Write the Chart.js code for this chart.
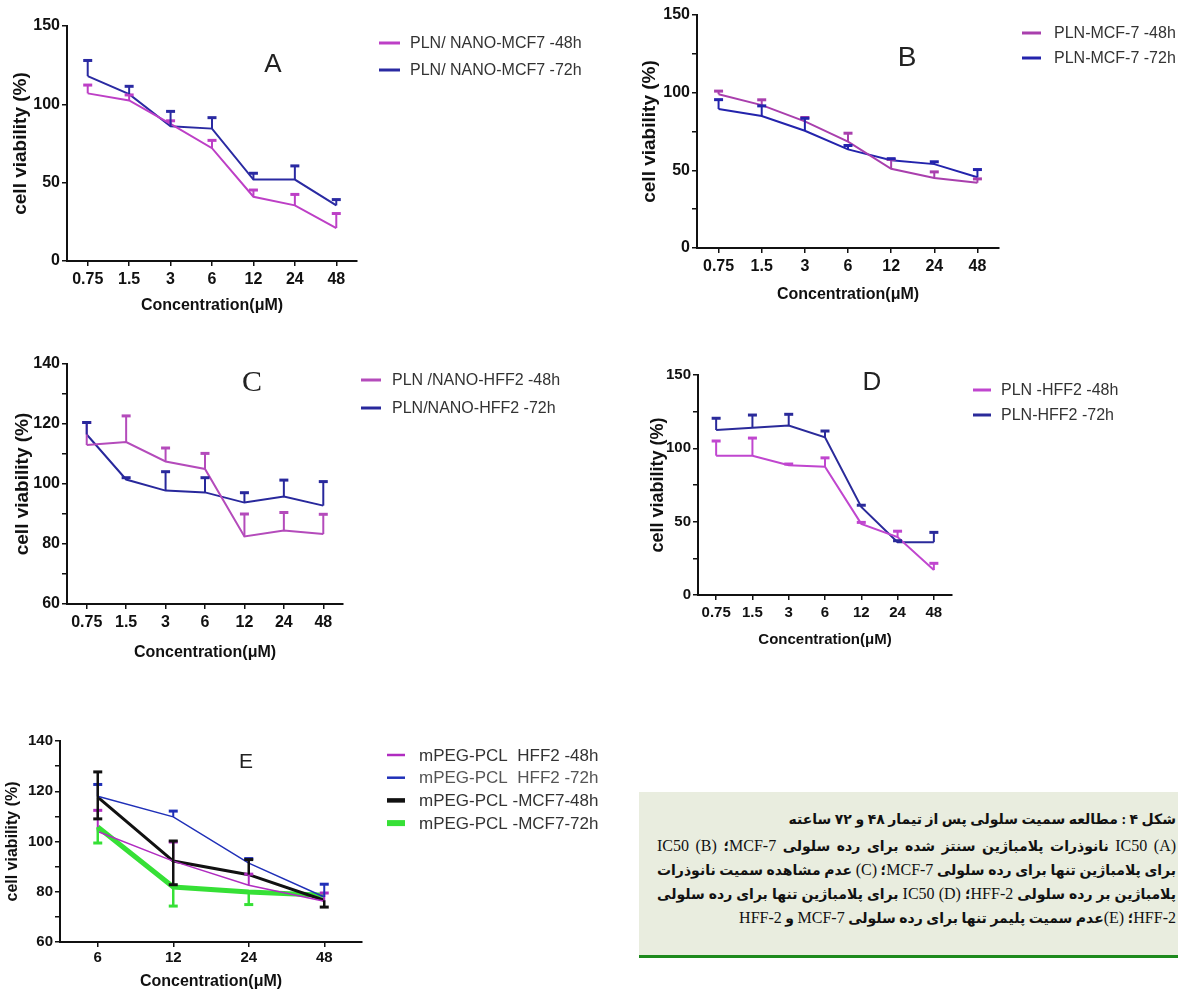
<!DOCTYPE html>
<html>
<head>
<meta charset="utf-8">
<script src="https://cdn.jsdelivr.net/npm/chart.js@4.4.0/dist/chart.umd.min.js"></script>
<style>
  body { margin: 0; background: #fff; width: 1178px; height: 990px; position: relative; overflow: hidden; }
  canvas { position: absolute; }
  .cap {
    position: absolute; left: 639px; top: 792px; width: 519px; height: 147px;
    padding: 16px 2px 0 18px; background: #e9eddf; border-bottom: 3px solid #1d8a1d;
    direction: rtl; font-family: 'Liberation Serif', 'DejaVu Sans', serif;
    font-size: 14px; line-height: 23px; color: #111; font-weight: bold;
  }
  .cap .t { margin-bottom: 3px; }
  .cap .j { text-align: justify; text-align-last: justify; }
  .cap bdi { font-size: 16px; font-weight: normal; }
</style>
</head>
<body>
<canvas id="chartA"></canvas>
<canvas id="chartB"></canvas>
<canvas id="chartC"></canvas>
<canvas id="chartD"></canvas>
<canvas id="chartE"></canvas>

<div class="cap">
  <div class="t">شکل ۴ : مطالعه سمیت سلولی پس از تیمار ۴۸ و ۷۲ ساعته</div>
  <div class="j"><bdi>(A)</bdi> <bdi>IC50</bdi> نانوذرات پلامباژین سنتز شده برای رده سلولی <bdi>MCF-7</bdi>؛ <bdi>(B)</bdi> <bdi>IC50</bdi></div>
  <div class="j">برای پلامباژین تنها برای رده سلولی <bdi>MCF-7</bdi>؛ <bdi>(C)</bdi> عدم مشاهده سمیت نانوذرات</div>
  <div class="j">پلامباژین بر رده سلولی <bdi>HFF-2</bdi>؛ <bdi>(D)</bdi> <bdi>IC50</bdi> برای پلامباژین تنها برای رده سلولی</div>
  <div><bdi>HFF-2</bdi>؛ <bdi>(E)</bdi>عدم سمیت پلیمر تنها برای رده سلولی <bdi>MCF-7</bdi> و <bdi>HFF-2</bdi></div>
</div>

<script>
/* ============================
   Data (cell viability, %)
   ============================ */
const conc = ['0.75', '1.5', '3', '6', '12', '24', '48'];
const concE = ['6', '12', '24', '48'];

// A - PLN nanoparticles on MCF-7
const a48 = [107, 102.5, 87.5, 72, 41, 35.5, 21];
const a48Err = [5.3, 3.5, 2, 5, 4.3, 7, 9.3];
const a72 = [118, 106.5, 86, 84.5, 52, 52, 35.5];
const a72Err = [10, 5, 9.5, 7, 4, 8.7, 3.7];

// B - free PLN on MCF-7
const b48 = [99, 92, 81.5, 68.5, 51, 45, 42];
const b48Err = [2, 3.4, 2.5, 5.4, 6, 4, 2.5];
const b72 = [89.5, 85, 75.5, 63.5, 56.5, 54, 45.5];
const b72Err = [6, 6.5, 8, 2.5, 1, 1.5, 5];

// C - PLN nanoparticles on HFF-2
const c48 = [113, 114, 107.5, 105, 82.5, 84.5, 83.3];
const c48Err = [7.5, 8.7, 4.5, 5.2, 7.5, 6, 6.6];
const c72 = [116.5, 101.5, 97.8, 97.2, 93.8, 95.8, 92.8];
const c72Err = [4, 0.6, 6.3, 4.9, 3.3, 5.5, 8];

// D - free PLN on HFF-2
const d48 = [95, 95, 88.5, 87.5, 48.5, 39.5, 17];
const d48Err = [10, 12, 0.8, 6, 1, 4, 4.6];
const d72 = [112.5, 114, 115.5, 107.5, 60, 36, 36];
const d72Err = [8, 8.7, 7.7, 4.3, 1.2, 1, 6.7];

// E - mPEG-PCL polymer alone
const eHff48 = [104, 92.2, 82.6, 76.2];
const eHff48Up = [8.4, 7.6, 4.4, 3.3];
const eHff72 = [118, 109.8, 91.4, 77.9];
const eHff72Up = [4.7, 2.3, 1.8, 5.1];
const eMcf48 = [117.7, 92.2, 86.8, 76.6];
const eMcf48Up = [10, 8, 6, 0];
const eMcf48Down = [8.7, 9.4, 0, 2.7];
const eMcf72 = [105.8, 81.9, 79.9, 78.6];
const eMcf72Down = [6.4, 7.6, 5, 0];

// y axis ranges: [min, max, minor step, labelled step]
const yAxisA = [0, 150, 50, 50];
const yAxisB = [0, 150, 25, 50];
const yAxisC = [60, 140, 10, 20];
const yAxisD = [0, 150, 25, 50];
const yAxisE = [60, 140, 10, 20];

const xTitle = 'Concentration(\u03bcM)';
const yTitle = 'cell viability (%)';

/* ============================
   Fonts
   ============================ */
function af(size, weight) {
    return { family: "'Liberation Sans', Arial, sans-serif", size: size, weight: weight, lineHeight: 1 };
}
function css(f) {
    return (f.weight || 'normal') + ' ' + f.size + 'px ' + f.family;
}

/* ============================
   Plugins
   ============================ */
const errorBars = {
    id: 'errorBars',
    afterDatasetsDraw(chart) {
        const ctx = chart.ctx;
        const y = chart.scales.y;
        chart.data.datasets.forEach((ds, di) => {
            const meta = chart.getDatasetMeta(di);
            ctx.save();
            ctx.strokeStyle = ds.borderColor;
            meta.data.forEach((pt, i) => {
                const v = ds.data[i];
                [[ds.errUp, 1], [ds.errDown, -1]].forEach(([arr, sign]) => {
                    if (!arr || !arr[i]) return;
                    const y0 = y.getPixelForValue(v);
                    const y1 = y.getPixelForValue(v + sign * arr[i]);
                    ctx.lineWidth = ds.errWidth || 2;
                    ctx.beginPath();
                    ctx.moveTo(pt.x, y0);
                    ctx.lineTo(pt.x, y1);
                    ctx.stroke();
                    ctx.lineWidth = 3;
                    ctx.beginPath();
                    ctx.moveTo(pt.x - 4.5, y1);
                    ctx.lineTo(pt.x + 4.5, y1);
                    ctx.stroke();
                });
            });
            ctx.restore();
        });
    }
};

// panel letter + legend drawn to the right of the plot
const decor = {
    id: 'decor',
    afterDraw(chart, args, o) {
        const ctx = chart.ctx;
        const [L, T] = o.origin;
        ctx.save();
        ctx.fillStyle = '#222';
        ctx.font = o.letterFont;
        ctx.textAlign = 'center';
        ctx.textBaseline = 'middle';
        ctx.fillText(o.letter, o.letterAt[0] - L, o.letterAt[1] - T);

        ctx.font = css(o.legendFont);
        ctx.textAlign = 'left';
        chart.data.datasets.forEach((ds, i) => {
            const yy = o.legendY + i * o.legendGap - T;
            ctx.strokeStyle = ds.borderColor;
            ctx.lineWidth = ds.legendWidth || 3;
            ctx.beginPath();
            ctx.moveTo(o.lineX[0] - L, yy);
            ctx.lineTo(o.lineX[1] - L, yy);
            ctx.stroke();
            ctx.fillStyle = ds.legendColor || '#333';
            ctx.fillText(ds.label, o.textX - L, yy + 1);
        });
        ctx.restore();
    }
};

/* ============================
   Panel builder
   ============================ */
function viabilityChart(p) {
    const cv = document.getElementById(p.id);
    const [L, T, R, B] = p.box;
    const [x0, yTop, x1, yBot] = p.plot;
    cv.width = R - L;
    cv.height = B - T;
    cv.style.left = L + 'px';
    cv.style.top = T + 'px';

    const [ymin, ymax, minor, major] = p.yAxis;

    return new Chart(cv, {
        type: 'line',
        data: {
            labels: p.labels,
            datasets: p.series.map(s => ({
                label: s.label,
                data: s.data,
                errUp: s.up,
                errDown: s.down,
                borderColor: s.color,
                backgroundColor: s.color,
                borderWidth: s.width || 2,
                errWidth: s.errWidth || 2,
                legendWidth: s.legendWidth || 3,
                legendColor: s.legendColor,
                pointRadius: 0,
                tension: 0,
                fill: false
            }))
        },
        options: {
            responsive: false,
            animation: false,
            events: [],
            layout: { padding: { left: 0, top: yTop - T, right: R - x1, bottom: 0 } },
            plugins: {
                legend: { display: false },
                tooltip: { enabled: false },
                decor: {
                    origin: [L, T],
                    letter: p.letter,
                    letterAt: p.letterAt,
                    letterFont: p.letterFont,
                    legendFont: p.legendFont,
                    legendY: p.legendY,
                    legendGap: p.legendGap,
                    lineX: p.lineX,
                    textX: p.textX
                }
            },
            scales: {
                x: {
                    offset: true,
                    grid: { drawOnChartArea: false, offset: false, tickLength: 5, color: '#111', lineWidth: 1.5 },
                    border: { color: '#111', width: 2 },
                    ticks: {
                        color: '#111', font: p.tickFont, autoSkip: false, maxRotation: 0,
                        padding: (p.xTickY - yBot) - 5 - p.tickFont.size / 2
                    },
                    title: {
                        display: true, text: xTitle, color: '#111', font: p.xTitleFont,
                        padding: { top: 0, bottom: Math.max(0, (B - p.xTitleY) - p.xTitleFont.size / 2) }
                    },
                    afterFit: s => { s.height = B - yBot; }
                },
                y: {
                    min: ymin,
                    max: ymax,
                    grid: { drawOnChartArea: false, tickLength: 5, color: '#111', lineWidth: 1.5 },
                    border: { color: '#111', width: 2 },
                    ticks: {
                        stepSize: minor, autoSkip: false, color: '#111', font: p.tickFont, padding: 2,
                        callback: v => (v % major === 0 ? v : '')
                    },
                    title: {
                        display: true, text: yTitle, color: '#111', font: p.yTitleFont,
                        padding: { top: Math.max(0, (p.yTitleX - L) - p.yTitleFont.size / 2), bottom: 0 }
                    },
                    afterFit: s => { s.width = x0 - L; }
                }
            }
        },
        plugins: [errorBars, decor]
    });
}

/* ============================
   Panels
   ============================ */
viabilityChart({
    id: 'chartA', box: [0, 14, 600, 320], plot: [67, 26, 357, 261],
    labels: conc, yAxis: yAxisA,
    series: [
        { label: 'PLN/ NANO-MCF7 -48h', data: a48, up: a48Err, color: '#bd3fc6' },
        { label: 'PLN/ NANO-MCF7 -72h', data: a72, up: a72Err, color: '#2a2aa2' }
    ],
    tickFont: af(16, 'bold'), xTitleFont: af(16, 'bold'), yTitleFont: af(19, 'bold'),
    xTickY: 280, xTitleY: 306, yTitleX: 21,
    letter: 'A', letterAt: [273, 65], letterFont: "26px 'Liberation Sans', Arial, sans-serif",
    legendFont: af(16, 'normal'), legendY: 43, legendGap: 27, lineX: [379, 400], textX: 410
});

viabilityChart({
    id: 'chartB', box: [630, 3, 1178, 310], plot: [697, 15, 999, 248],
    labels: conc, yAxis: yAxisB,
    series: [
        { label: 'PLN-MCF-7 -48h', data: b48, up: b48Err, color: '#a93fad' },
        { label: 'PLN-MCF-7 -72h', data: b72, up: b72Err, color: '#2323ac' }
    ],
    tickFont: af(16, 'bold'), xTitleFont: af(16, 'bold'), yTitleFont: af(19, 'bold'),
    xTickY: 267, xTitleY: 295, yTitleX: 650,
    letter: 'B', letterAt: [907, 58], letterFont: "28px 'Liberation Sans', Arial, sans-serif",
    legendFont: af(16, 'normal'), legendY: 33, legendGap: 25, lineX: [1022, 1041], textX: 1054
});

viabilityChart({
    id: 'chartC', box: [0, 352, 600, 666], plot: [67, 364, 343, 604],
    labels: conc, yAxis: yAxisC,
    series: [
        { label: 'PLN /NANO-HFF2 -48h', data: c48, up: c48Err, color: '#b44bbb' },
        { label: 'PLN/NANO-HFF2 -72h', data: c72, up: c72Err, color: '#28289c' }
    ],
    tickFont: af(16, 'bold'), xTitleFont: af(16, 'bold'), yTitleFont: af(19, 'bold'),
    xTickY: 623, xTitleY: 653, yTitleX: 23,
    letter: 'C', letterAt: [252, 383], letterFont: "30px 'Liberation Serif', serif",
    legendFont: af(16, 'normal'), legendY: 380, legendGap: 28, lineX: [361, 381], textX: 392
});

viabilityChart({
    id: 'chartD', box: [640, 363, 1178, 652], plot: [698, 375, 952, 595],
    labels: conc, yAxis: yAxisD,
    series: [
        { label: 'PLN -HFF2 -48h', data: d48, up: d48Err, color: '#c046cf' },
        { label: 'PLN-HFF2 -72h', data: d72, up: d72Err, color: '#2a2a9a' }
    ],
    tickFont: af(15, 'bold'), xTitleFont: af(15, 'bold'), yTitleFont: af(18, 'bold'),
    xTickY: 613, xTitleY: 640, yTitleX: 658,
    letter: 'D', letterAt: [872, 383], letterFont: "26px 'Liberation Sans', Arial, sans-serif",
    legendFont: af(16, 'normal'), legendY: 390, legendGap: 25, lineX: [973, 991], textX: 1001
});

viabilityChart({
    id: 'chartE', box: [0, 729, 620, 990], plot: [60, 741, 362, 942],
    labels: concE, yAxis: yAxisE,
    series: [
        { label: 'mPEG-PCL  HFF2 -48h', data: eHff48, up: eHff48Up, color: '#b02cc0', width: 1.5, legendWidth: 2.5 },
        { label: 'mPEG-PCL  HFF2 -72h', data: eHff72, up: eHff72Up, color: '#2030b8', width: 1.5, legendWidth: 2.5, legendColor: '#555' },
        { label: 'mPEG-PCL -MCF7-48h', data: eMcf48, up: eMcf48Up, down: eMcf48Down, color: '#111111', width: 3, errWidth: 2.5, legendWidth: 4.5 },
        { label: 'mPEG-PCL -MCF7-72h', data: eMcf72, down: eMcf72Down, color: '#36e036', width: 5, errWidth: 2.5, legendWidth: 6 }
    ],
    tickFont: af(15, 'bold'), xTitleFont: af(16, 'bold'), yTitleFont: af(16, 'bold'),
    xTickY: 958, xTitleY: 982, yTitleX: 13,
    letter: 'E', letterAt: [246, 762], letterFont: "21px 'Liberation Sans', Arial, sans-serif",
    legendFont: af(17, 'normal'), legendY: 755, legendGap: 22.7, lineX: [387, 405], textX: 419
});
</script>
</body>
</html>
